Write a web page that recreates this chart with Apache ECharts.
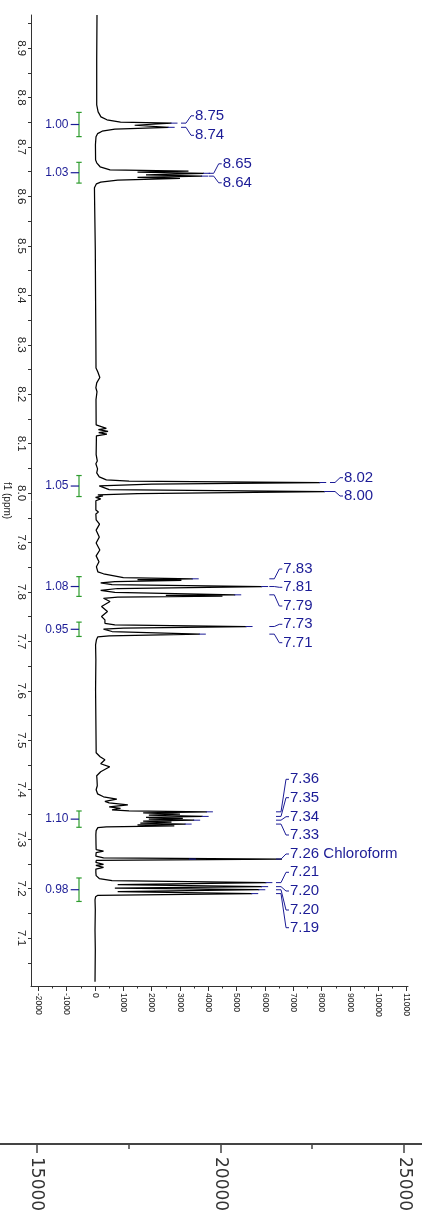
<!DOCTYPE html>
<html><head><meta charset="utf-8">
<script src="https://cdn.jsdelivr.net/npm/echarts@6/dist/echarts.min.js"></script>
<style>html,body{margin:0;padding:0;background:#fff}#c{width:422px;height:1211px}</style>
</head><body><div id="c"></div>
<script>
// ---------- DATA ----------
// spectrum trace, top to bottom: [ppm, intensity]
const trace = [
[8.967,70],[8.876,60],[8.785,60],[8.771,110],[8.761,210],[8.755,420],[8.7505,900],
[8.7483,2700],[8.7440,1400],[8.7398,2600],[8.7360,700],[8.7320,250],[8.7270,90],[8.7206,35],
[8.7044,15],[8.6740,20],[8.6680,60],[8.6600,180],[8.6538,530],
[8.6514,3300],[8.6490,1500],[8.6468,3850],[8.6437,1800],[8.6411,3780],[8.6387,1500],[8.6367,3000],
[8.6330,800],[8.6290,200],[8.6255,50],[8.6174,-20],[8.5930,-15],[8.4920,10],[8.3910,20],[8.3100,30],
[8.2530,35],[8.2450,100],[8.2337,170],[8.2230,60],[8.2130,30],[8.2050,70],[8.1890,35],
[8.1380,40],[8.1310,400],[8.1284,120],[8.1249,460],[8.1223,130],[8.1193,420],[8.1158,50],
[8.0780,40],[8.0650,80],[8.0610,130],[8.0592,30],[8.0490,90],[8.0450,150],[8.0409,60],[8.0328,150],
[8.0267,400],[8.0240,1200],[8.0214,7950],[8.0180,2000],[8.0147,150],[8.0070,500],[8.0032,8120],
[7.9990,1500],[7.9965,100],[7.9945,280],[7.9915,20],[7.9884,200],[7.9844,30],
[7.9660,30],[7.9618,120],[7.9578,30],[7.9460,40],[7.9372,160],[7.9250,40],[7.9110,150],[7.8990,40],
[7.8848,170],[7.8730,40],[7.8610,140],[7.8509,50],[7.8408,100],[7.8368,300],[7.8290,1000],
[7.8266,3450],[7.8250,1500],[7.8236,3050],[7.8210,700],[7.8185,200],[7.8150,600],[7.8110,5900],
[7.8070,800],[7.8033,200],[7.7990,700],[7.7942,4950],[7.7930,2500],[7.7916,4500],[7.7895,800],
[7.7872,300],[7.7807,530],[7.7706,230],[7.7605,440],[7.7503,230],[7.7436,350],[7.7366,350],
[7.7335,700],[7.7301,5350],[7.7270,1000],[7.7249,300],[7.7200,600],[7.7147,3700],[7.7110,500],
[7.7092,100],[7.7032,50],[7.6930,20],[7.6627,30],[7.6021,20],[7.5414,30],[7.4807,40],
[7.4747,40],[7.4666,180],[7.4605,350],[7.4525,200],[7.4464,520],[7.4363,200],[7.4282,60],
[7.4201,70],[7.4080,80],[7.3999,40],[7.3917,90],[7.3857,300],[7.3810,770],[7.3766,350],
[7.3735,500],[7.3695,1160],[7.3654,500],[7.3624,900],[7.3594,600],
[7.3570,1200],[7.3553,3950],[7.3530,1700],[7.3507,3000],[7.3485,1900],[7.3460,3800],[7.3440,1800],
[7.3422,3100],[7.3403,1900],[7.3384,3500],[7.3364,1700],[7.3345,2700],[7.3325,1600],[7.3305,3200],
[7.3288,1500],[7.3271,2800],[7.3250,400],[7.3234,100],[7.3173,40],[7.3092,30],
[7.2890,35],[7.2789,40],[7.2758,300],[7.2728,40],[7.2657,30],[7.2620,300],[7.2597,6600],
[7.2573,50],[7.2532,30],[7.2492,300],[7.2471,30],[7.2429,300],[7.2395,30],[7.2324,30],
[7.2263,40],[7.2203,150],[7.2162,600],[7.2121,6050],[7.2081,800],[7.2040,5900],[7.2010,700],
[7.1977,5800],[7.1937,800],[7.1899,5550],[7.1864,100],[7.1834,20],[7.1774,0],[7.1570,10],
[7.1160,0],[7.0760,10],[7.0117,0]
];
// picked peaks
const peakLabels = ['8.75','8.74','8.65','8.64','8.02','8.00','7.83','7.81','7.79','7.73','7.71',
  '7.36','7.35','7.34','7.33','7.26 Chloroform','7.21','7.20','7.20','7.19'];
const peakPpm = [8.7483,8.7398,8.6468,8.6411,8.0214,8.0032,7.8266,7.8110,7.7942,7.7301,7.7147,
  7.3553,7.3460,7.3384,7.3305,7.2597,7.2121,7.2040,7.1977,7.1899];
const peakMarkerIntensity = [2700,2600,3850,3780,7950,8120,3450,5900,4950,5350,3700,
  3950,3800,3500,3200,3350,6050,5900,5800,5550];
// integrals
const integralValues = ['1.00','1.03','1.05','1.08','0.95','1.10','0.98'];
const integralFrom = [8.770,8.669,8.0355,7.831,7.739,7.357,7.2215];
const integralTo   = [8.721,8.627,7.993,7.791,7.710,7.324,7.174];
// axis ticks
const ppmLabels = [8.9,8.8,8.7,8.6,8.5,8.4,8.3,8.2,8.1,8.0,7.9,7.8,7.7,7.6,7.5,7.4,7.3,7.2,7.1];
const ppmTicks = [8.95,8.9,8.85,8.8,8.75,8.7,8.65,8.6,8.55,8.5,8.45,8.4,8.35,8.3,8.25,8.2,8.15,8.1,8.05,8.0,
  7.95,7.9,7.85,7.8,7.75,7.7,7.65,7.6,7.55,7.5,7.45,7.4,7.35,7.3,7.25,7.2,7.15,7.1,7.05];
const intLabels = [-2000,-1000,0,1000,2000,3000,4000,5000,6000,7000,8000,9000,10000,11000];
const intMinorTicks = [-1500,-500,500,1500,2500,3500,4500,5500,6500,7500,8500,9500,10500];
const bottomLabels = [15000,20000,25000];
const bottomMinorTicks = [17500,22500];

// ---------- LAYOUT ----------
const labelGroups = [
  {idx:[0,1], textX:195, labelY:[115.8,135.3]},
  {idx:[2,3], textX:222.7, labelY:[163.8,182.8]},
  {idx:[4,5], textX:344, labelY:[477.7,496]},
  {idx:[6,7,8,9,10], textX:283.3, labelY:[569,587.3,606,624.3,642.7]},
  {idx:[11,12,13,14,15,16,17,18,19], textX:290, labelY:[779.3,797.7,816.7,835,854,872.3,891,910,927.7]}
];
const BLUE = '#1c1c96', GREEN = '#2e9c2e', AX = '#333';
const FONT = 'Liberation Sans, Arial, sans-serif';

const chart = echarts.init(document.getElementById('c'), null, {renderer:'canvas'});
const option = {
  animation:false,
  backgroundColor:'#fff',
  grid:[
    {left:31, top:15, width:377, height:971, containLabel:false, outerBoundsMode:'none'},
    {left:0, top:1100, width:422, height:44, containLabel:false, outerBoundsMode:'none'}
  ],
  xAxis:[
    {type:'value', gridIndex:0, min:-2260, max:11050, position:'bottom',
     axisLine:{show:true, onZero:false, lineStyle:{color:AX, width:1}},
     axisTick:{show:true, customValues:intLabels, length:5, lineStyle:{color:AX}},
     axisLabel:{show:true, customValues:intLabels, rotate:-90, margin:7, fontSize:8.5, color:'#222', fontFamily:FONT,
       formatter:v=>String(v)},
     splitLine:{show:false}},
    {type:'value', gridIndex:0, min:-2260, max:11050, position:'bottom',
     axisLine:{show:false, onZero:false},
     axisTick:{show:true, customValues:intMinorTicks, length:2.5, lineStyle:{color:AX}},
     axisLabel:{show:false}, splitLine:{show:false}},
    {type:'value', gridIndex:1, min:14000, max:25490, position:'bottom',
     axisLine:{show:true, onZero:false, lineStyle:{color:'#444', width:2}},
     axisTick:{show:true, customValues:bottomLabels, length:9, lineStyle:{color:'#444', width:1.5}},
     axisLabel:{show:true, customValues:bottomLabels, rotate:-90, margin:13, fontSize:17, color:'#333',
       fontFamily:'DejaVu Sans, sans-serif', formatter:v=>String(v)},
     splitLine:{show:false}},
    {type:'value', gridIndex:1, min:14000, max:25490, position:'bottom',
     axisLine:{show:false, onZero:false},
     axisTick:{show:true, customValues:bottomMinorTicks, length:5, lineStyle:{color:'#444', width:1.5}},
     axisLabel:{show:false}, splitLine:{show:false}}
  ],
  yAxis:[
    {type:'value', gridIndex:0, min:7.003, max:8.967, position:'left',
     name:'f1 (ppm)', nameLocation:'middle', nameRotate:-90, nameGap:19, nameMoveOverlap:false,
     nameTextStyle:{fontSize:10, color:'#222', fontFamily:FONT},
     axisLine:{show:true, onZero:false, lineStyle:{color:AX, width:1}},
     axisTick:{show:true, customValues:ppmTicks, length:3, lineStyle:{color:AX}},
     axisLabel:{show:true, customValues:ppmLabels, rotate:-90, margin:4, fontSize:11.5, color:'#222', fontFamily:FONT,
       formatter:v=>Number(v).toFixed(1)},
     splitLine:{show:false}},
    {type:'value', gridIndex:1, min:0, max:1, show:false}
  ],
  series:[{
    type:'line', xAxisIndex:0, yAxisIndex:0, showSymbol:false, symbol:'none',
    lineStyle:{color:'#000', width:1.25}, sampling:null, silent:true,
    data: trace.map(p=>[p[1], p[0]])
  }]
};
chart.setOption(option);

// ---------- annotations (peak labels & integrals) ----------
const px = (intensity, ppm) => chart.convertToPixel({gridIndex:0}, [intensity, ppm]);
const g = [];
const line = (x1,y1,x2,y2,color,w) => g.push({type:'line', silent:true, z:50,
  shape:{x1,y1,x2,y2}, style:{stroke:color, lineWidth:w||1}});
const text = (t,x,y,size,color,align) => g.push({type:'text', silent:true, z:51,
  style:{text:t, x, y, font: size+'px '+FONT, fill:color,
    textAlign:align, align:align, textVerticalAlign:'middle', verticalAlign:'middle'}});

labelGroups.forEach(grp=>{
  grp.idx.forEach((i,k)=>{
    const p = px(peakMarkerIntensity[i], peakPpm[i]);
    const py = p[1], tx = p[0];
    line(tx-1, py, tx+6, py, BLUE, 1);              // tip marker
    const X = grp.textX, ly = grp.labelY[k];
    line(X-14, py, X-9, py, BLUE, 1);
    line(X-9, py, X-4, ly, BLUE, 1);
    line(X-4, ly, X-1, ly, BLUE, 1);
    text(peakLabels[i], X, ly, 15, BLUE, 'left');
  });
});

integralValues.forEach((v,i)=>{
  const a = px(0, integralFrom[i])[1], b = px(0, integralTo[i])[1];
  const xb = 79;
  line(xb, a, xb, b, GREEN, 1.2);
  line(xb-2.7, a, xb+2.7, a, GREEN, 1.2);
  line(xb-2.7, b, xb+2.7, b, GREEN, 1.2);
  const m = (a+b)/2;
  line(70.7, m, xb, m, BLUE, 1.2);
  text(v, 68.5, m, 12, BLUE, 'right');
});
chart.setOption({graphic: g});
</script></body></html>
